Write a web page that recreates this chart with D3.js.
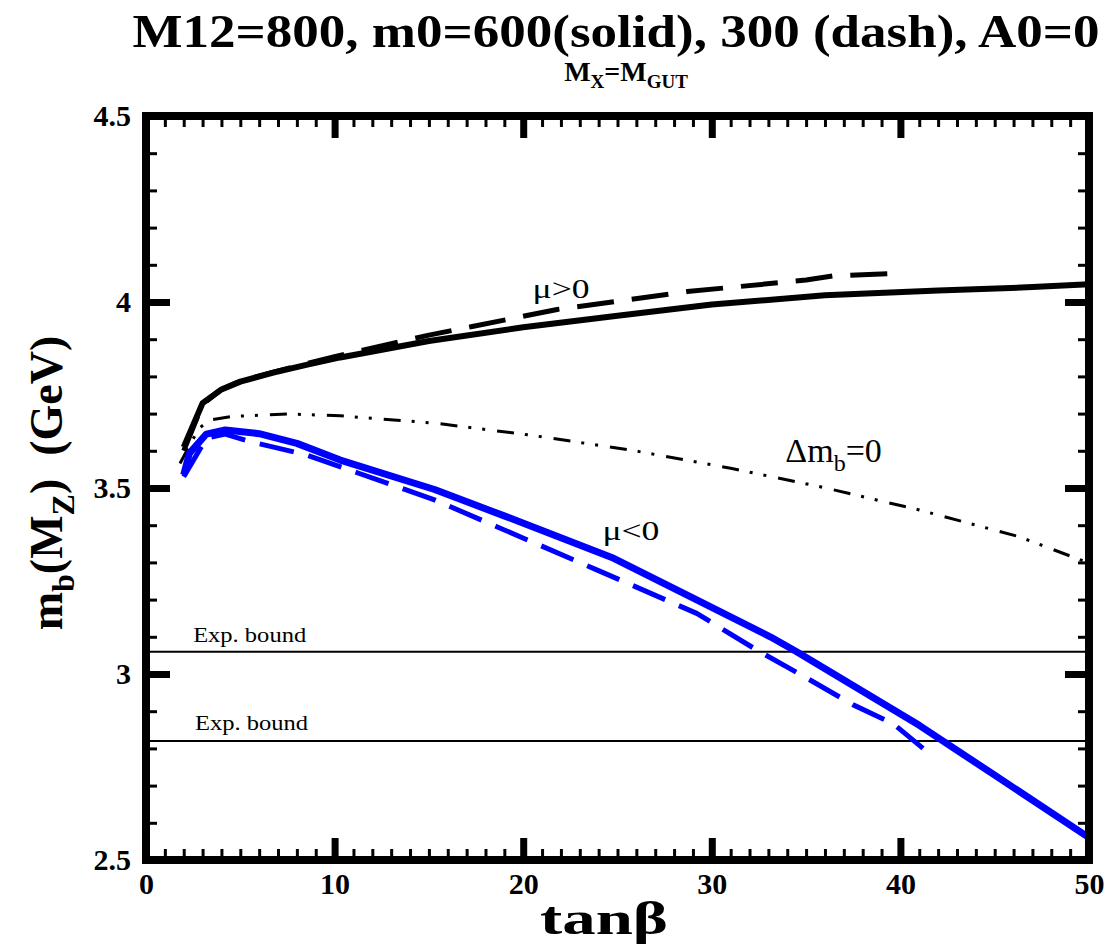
<!DOCTYPE html>
<html>
<head>
<meta charset="utf-8">
<script src="https://cdn.jsdelivr.net/npm/d3@7"></script>
<style>
  body { margin:0; background:#fff; }
  svg text { font-family:'Liberation Serif','Times New Roman',Times,serif; }
</style>
</head>
<body>
<div id="plot"></div>
<script>
// frame of the plot in pixels
var margin = {t:116, r:21, b:86, l:146};
var W = 1110, H = 946;
var width = W - margin.l - margin.r,
    height = H - margin.t - margin.b;
var serif = "'Liberation Serif','Times New Roman',Times,serif";

// data (tan beta, m_b(M_Z) in GeV)
var tanSolidPos = [2, 3, 4, 5, 6.75, 8.5, 10.3, 15, 20, 25, 30, 36, 42, 47, 50];
var mbSolidPos  = [3.61, 3.728, 3.765, 3.786, 3.81, 3.831, 3.851, 3.895, 3.932, 3.963, 3.993, 4.018, 4.031, 4.04, 4.048];

var tanDashPos = [2, 3, 4, 5, 7, 10, 15, 17.3, 21.8, 28.7, 35, 36.4, 40];
var mbDashPos  = [3.60, 3.725, 3.765, 3.787, 3.815, 3.853, 3.911, 3.934, 3.98, 4.028, 4.059, 4.07, 4.077];

var tanSolidNeg = [2, 2.3, 3.2, 4.2, 6, 8, 10.3, 15.3, 19.1, 24.8, 29.2, 33.1, 34.5, 41, 45, 50];
var mbSolidNeg  = [3.535, 3.593, 3.645, 3.656, 3.646, 3.62, 3.575, 3.496, 3.423, 3.311, 3.199, 3.1, 3.06, 2.862, 2.728, 2.56];

var tanDashNeg = [2, 3.2, 4.2, 5.5, 8.5, 11.2, 15.3, 18.6, 23.9, 29.2, 32.4, 35, 37.5, 39.6, 41.2];
var mbDashNeg  = [3.53, 3.634, 3.645, 3.625, 3.589, 3.541, 3.468, 3.396, 3.28, 3.163, 3.064, 2.99, 2.917, 2.867, 2.8];

var tanNoCorr = [1.8, 2.8, 3.4, 4.5, 7.5, 10.3, 15.4, 20.4, 25.7, 31, 35.7, 41, 46.3, 50];
var mbNoCorr  = [3.566, 3.66, 3.683, 3.692, 3.699, 3.694, 3.674, 3.642, 3.602, 3.553, 3.504, 3.441, 3.369, 3.298];

var expBounds = [3.06, 2.82];

var xMajor = [0, 10, 20, 30, 40, 50];
var yMajor = [2.5, 3, 3.5, 4, 4.5];

var svg = d3.select('#plot')
  .append('svg')
  .attr('width', W)
  .attr('height', H)
  .attr('font-family', serif);

svg.append('rect').attr('width', W).attr('height', H).attr('fill', '#fff');

var plot = svg.append('g')
  .attr('transform', 'translate(' + margin.l + ',' + margin.t + ')');

var x = d3.scaleLinear().domain([0, 50]).range([0, width]);
var y = d3.scaleLinear().domain([2.5, 4.5]).range([height, 0]);

var xMinor = d3.range(0, 51).filter(function(d){ return d % 10 !== 0; });
var yMinor = d3.range(25, 46).filter(function(d){ return d % 5 !== 0; }).map(function(d){ return d / 10; });

function zip(a, b) { return a.map(function(d, i){ return [d, b[i]]; }); }

var line = d3.line()
  .x(function(d){ return x(d[0]); })
  .y(function(d){ return y(d[1]); });

// experimental bounds
expBounds.forEach(function(v){
  plot.append('line')
    .attr('x1', x(0)).attr('x2', x(50))
    .attr('y1', y(v)).attr('y2', y(v))
    .attr('stroke', '#000').attr('stroke-width', 2);
});

var curves = [
  {d: zip(tanNoCorr, mbNoCorr), color: '#000', w: 3, dash: '17,11,3,11,3,12'},
  {d: zip(tanDashNeg, mbDashNeg), color: '#0000ff', w: 5, dash: '35,15'},
  {d: zip(tanSolidNeg, mbSolidNeg), color: '#0000ff', w: 7, dash: null},
  {d: zip(tanDashPos, mbDashPos), color: '#000', w: 5, dash: '37,18'},
  {d: zip(tanSolidPos, mbSolidPos), color: '#000', w: 6, dash: null}
];

curves.forEach(function(c){
  plot.append('path')
    .attr('d', line(c.d))
    .attr('fill', 'none')
    .attr('stroke', c.color)
    .attr('stroke-width', c.w)
    .attr('stroke-linejoin', 'round')
    .attr('stroke-dasharray', c.dash);
});

// axes: ticks point into the box
function styleAxis(g, w) {
  g.attr('font-family', serif);
  g.select('.domain').remove();
  g.selectAll('.tick line').attr('stroke', '#000').attr('stroke-width', w);
}

var bottomMajor = plot.append('g').attr('transform', 'translate(0,' + height + ')')
  .call(d3.axisBottom(x).tickValues(xMajor).tickSize(-22).tickPadding(13).tickFormat(d3.format('d')));
styleAxis(bottomMajor, 7);
bottomMajor.selectAll('text').attr('font-size', 30).attr('font-weight', 'bold').attr('fill', '#000');

var bottomMinor = plot.append('g').attr('transform', 'translate(0,' + height + ')')
  .call(d3.axisBottom(x).tickValues(xMinor).tickSize(-11).tickFormat(''));
styleAxis(bottomMinor, 3);

var topMajor = plot.append('g')
  .call(d3.axisTop(x).tickValues(xMajor).tickSize(-22).tickFormat(''));
styleAxis(topMajor, 7);
var topMinor = plot.append('g')
  .call(d3.axisTop(x).tickValues(xMinor).tickSize(-11).tickFormat(''));
styleAxis(topMinor, 3);

var leftMajor = plot.append('g')
  .call(d3.axisLeft(y).tickValues(yMajor).tickSize(-24).tickPadding(15).tickFormat(function(d){ return String(d); }));
styleAxis(leftMajor, 7);
leftMajor.selectAll('text').attr('font-size', 30).attr('font-weight', 'bold').attr('fill', '#000');
var leftMinor = plot.append('g')
  .call(d3.axisLeft(y).tickValues(yMinor).tickSize(-11).tickFormat(''));
styleAxis(leftMinor, 3);

var rightMajor = plot.append('g').attr('transform', 'translate(' + width + ',0)')
  .call(d3.axisRight(y).tickValues(yMajor).tickSize(-24).tickFormat(''));
styleAxis(rightMajor, 7);
var rightMinor = plot.append('g').attr('transform', 'translate(' + width + ',0)')
  .call(d3.axisRight(y).tickValues(yMinor).tickSize(-11).tickFormat(''));
styleAxis(rightMinor, 3);

// frame
plot.append('rect')
  .attr('width', width).attr('height', height)
  .attr('fill', 'none').attr('stroke', '#000').attr('stroke-width', 8);

// curve labels
plot.append('text').attr('x', x(20.5)).attr('y', y(4.011))
  .attr('font-size', 28).attr('textLength', 57).attr('lengthAdjust', 'spacingAndGlyphs').text('μ>0');
plot.append('text').attr('x', x(24.2)).attr('y', y(3.36))
  .attr('font-size', 28).attr('textLength', 57).attr('lengthAdjust', 'spacingAndGlyphs').text('μ<0');

var dl = plot.append('text').attr('x', x(33.9)).attr('y', y(3.57)).attr('font-size', 34);
dl.append('tspan').text('Δm');
dl.append('tspan').attr('font-size', 24).attr('dy', 9).text('b');
dl.append('tspan').attr('dy', -9).text('=0');

plot.append('text').attr('x', x(2.5)).attr('y', y(3.086))
  .attr('font-size', 21).attr('textLength', 113).attr('lengthAdjust', 'spacingAndGlyphs').text('Exp. bound');
plot.append('text').attr('x', x(2.6)).attr('y', y(2.85))
  .attr('font-size', 21).attr('textLength', 113).attr('lengthAdjust', 'spacingAndGlyphs').text('Exp. bound');

// titles
svg.append('text')
  .attr('x', 616).attr('y', 47)
  .attr('text-anchor', 'middle')
  .attr('font-size', 46).attr('font-weight', 'bold')
  .attr('textLength', 967).attr('lengthAdjust', 'spacingAndGlyphs')
  .text('M12=800, m0=600(solid), 300 (dash), A0=0');

var sub = svg.append('text')
  .attr('x', 626).attr('y', 81)
  .attr('text-anchor', 'middle')
  .attr('font-size', 28).attr('font-weight', 'bold');
sub.append('tspan').text('M');
sub.append('tspan').attr('font-size', 19).attr('dy', 7).text('X');
sub.append('tspan').attr('dy', -7).text('=M');
sub.append('tspan').attr('font-size', 19).attr('dy', 7).text('GUT');

var yl = svg.append('text')
  .attr('transform', 'translate(62,483) rotate(-90)')
  .attr('text-anchor', 'middle')
  .attr('font-size', 46).attr('font-weight', 'bold')
  .style('white-space', 'pre');
yl.append('tspan').text('m');
yl.append('tspan').attr('font-size', 32).attr('dy', 12).text('b');
yl.append('tspan').attr('dy', -12).text('(M');
yl.append('tspan').attr('font-size', 32).attr('dy', 12).text('Z');
yl.append('tspan').attr('dy', -12).text(')  (GeV)');

svg.append('text')
  .attr('x', 604).attr('y', 934)
  .attr('text-anchor', 'middle')
  .attr('font-size', 46).attr('font-weight', 'bold')
  .attr('textLength', 128).attr('lengthAdjust', 'spacingAndGlyphs')
  .text('tanβ');
</script>
</body>
</html>
